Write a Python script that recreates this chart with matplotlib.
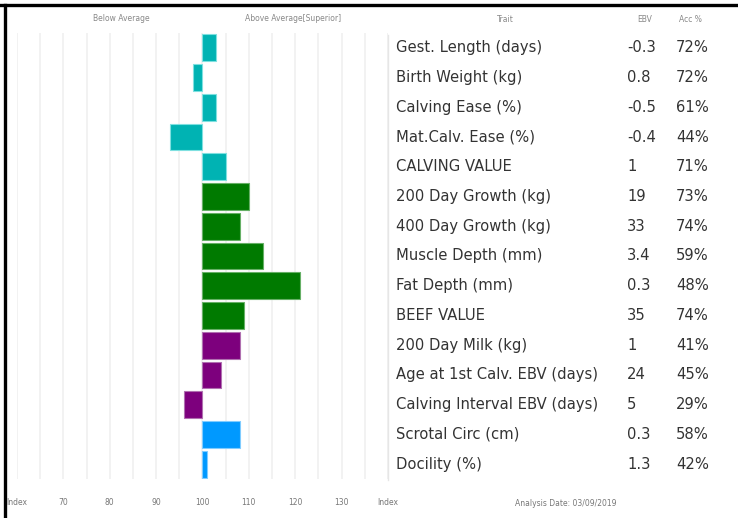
import matplotlib
matplotlib.use('Agg')
import matplotlib.pyplot as plt
from matplotlib.lines import Line2D

traits = ['Gest. Length (days)', 'Birth Weight (kg)', 'Calving Ease (%)',
          'Mat.Calv. Ease (%)', 'CALVING VALUE', '200 Day Growth (kg)',
          '400 Day Growth (kg)', 'Muscle Depth (mm)', 'Fat Depth (mm)',
          'BEEF VALUE', '200 Day Milk (kg)', 'Age at 1st Calv. EBV (days)',
          'Calving Interval EBV (days)', 'Scrotal Circ (cm)', 'Docility (%)']
ebv = ['-0.3', '0.8', '-0.5', '-0.4', '1', '19', '33', '3.4', '0.3',
       '35', '1', '24', '5', '0.3', '1.3']
acc = ['72%', '72%', '61%', '44%', '71%', '73%', '74%', '59%', '48%',
       '74%', '41%', '45%', '29%', '58%', '42%']
index = [103, 98, 103, 93, 105, 110, 108, 113, 121, 109, 108, 104, 96, 108, 101]
groups = ['calving'] * 5 + ['growth'] * 5 + ['fert'] * 3 + ['scrotal', 'scrotal']

ticks = [60, 70, 80, 90, 100, 110, 120, 130, 140]
tick_labels = ['Index', '70', '80', '90', '100', '110', '120', '130', 'Index']

fill = {'calving': '#00b3b3', 'growth': '#007a00', 'fert': '#7d007d', 'scrotal': '#0099ff'}
edge = {'calving': '#7fe0e0', 'growth': '#66b066', 'fert': '#b070b0', 'scrotal': '#80ccff'}

plt.rcParams['font.family'] = ['DejaVu Sans']
fig = plt.figure(figsize=(7.38, 5.18), dpi=100)
ax = fig.add_axes([0.023, 0.0753, 0.5027, 0.861])

rows = list(range(len(traits)))
for i in rows:
    g = groups[i]
    ax.barh(i, index[i] - 100, left=100, height=0.9, color=fill[g],
            edgecolor=edge[g], linewidth=0.8, zorder=3)

ax.set_xlim(60, 140)
ax.set_ylim(len(traits) - 0.5, -0.5)
ax.set_xticks(range(60, 141, 5))
ax.grid(axis='x', color='#f0f0f0', linewidth=1.2, zorder=0)
ax.set_yticks([])
for s in ax.spines.values():
    s.set_visible(False)
ax.tick_params(axis='x', length=0, labelbottom=False)

xt = ax.get_xaxis_transform()
for t, lab in zip(ticks, tick_labels):
    ax.text(t, -0.052, lab, transform=xt, ha='center', va='center',
            fontsize=5.5, color='#777777')

ax.text(0.28, 1.032, 'Below Average', transform=ax.transAxes, ha='center', va='center',
        fontsize=5.5, color='#888888')
ax.text(0.745, 1.032, 'Above Average[Superior]', transform=ax.transAxes, ha='center',
        va='center', fontsize=5.5, color='#888888')

# table on the right (x in axes fraction, y in rows)
yt = ax.get_yaxis_transform()
for i in rows:
    ax.text(1.021, i, traits[i], transform=yt, ha='left', va='center',
            fontsize=10.6, color='#333333', clip_on=False)
    ax.text(1.0 + (627 - 388) / 371, i, ebv[i], transform=yt, ha='left', va='center',
            fontsize=10.6, color='#333333', clip_on=False)
    ax.text(1.0 + (676 - 388) / 371, i, acc[i], transform=yt, ha='left', va='center',
            fontsize=10.6, color='#333333', clip_on=False)

fig.text(505 / 738, 1 - 19 / 518, 'Trait', ha='center', va='center', fontsize=5.5, color='#888888')
fig.text(645 / 738, 1 - 19 / 518, 'EBV', ha='center', va='center', fontsize=5.5, color='#888888')
fig.text(690 / 738, 1 - 19 / 518, 'Acc %', ha='center', va='center', fontsize=5.5, color='#888888')
fig.text(566 / 738, 1 - 503 / 518, 'Analysis Date: 03/09/2019', ha='center', va='center',
         fontsize=5.5, color='#777777')

# light separator at right edge of chart
fig.add_artist(Line2D([388 / 738, 388 / 738], [1 - 35 / 518, 1 - 480 / 518],
                      color='#e6e6e6', linewidth=1))
# black frame top and left
fig.add_artist(Line2D([0, 1], [1 - 4.5 / 518, 1 - 4.5 / 518], color='black', linewidth=2.4))
fig.add_artist(Line2D([4.5 / 738, 4.5 / 738], [0, 1 - 4.5 / 518], color='black', linewidth=2.4))

fig.savefig('out.png', dpi=100)
